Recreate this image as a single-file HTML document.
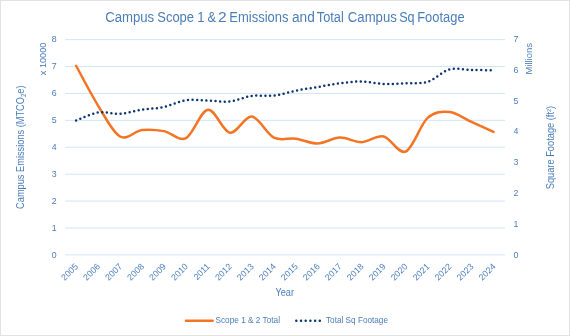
<!DOCTYPE html>
<html><head><meta charset="utf-8"><style>
html,body{margin:0;padding:0;background:#fff;}
body{width:570px;height:336px;overflow:hidden;position:relative;}
svg{position:absolute;left:0;top:0;will-change:transform;}
text{font-family:"Liberation Sans",sans-serif;fill:#4a7dba;}
</style></head><body>
<svg width="570" height="336" viewBox="0 0 570 336">
<rect x="0" y="0" width="570" height="336" fill="#fff"/>
<rect x="0.5" y="0.5" width="569" height="335" fill="#fff" stroke="#e2e2e2" stroke-width="1"/>
<g font-size="13.8"><text x="105.13" y="21.9" textLength="49.04" lengthAdjust="spacingAndGlyphs">Campus</text><text x="157.21" y="21.9" textLength="36.87" lengthAdjust="spacingAndGlyphs">Scope</text><text x="197.29" y="21.9" textLength="7.35" lengthAdjust="spacingAndGlyphs">1</text><text x="207.55" y="21.9" textLength="8.55" lengthAdjust="spacingAndGlyphs">&amp;</text><text x="218.12" y="21.9" textLength="8.67" lengthAdjust="spacingAndGlyphs">2</text><text x="229.34" y="21.9" textLength="59.13" lengthAdjust="spacingAndGlyphs">Emissions</text><text x="292.02" y="21.9" textLength="22.76" lengthAdjust="spacingAndGlyphs">and</text><text x="316.73" y="21.9" textLength="27.09" lengthAdjust="spacingAndGlyphs">Total</text><text x="347.83" y="21.9" textLength="48.94" lengthAdjust="spacingAndGlyphs">Campus</text><text x="399.13" y="21.9" textLength="15.48" lengthAdjust="spacingAndGlyphs">Sq</text><text x="417.24" y="21.9" textLength="47.33" lengthAdjust="spacingAndGlyphs">Footage</text></g>
<g stroke="#d0e4fa" stroke-width="1"><line x1="65.1" x2="504.9" y1="254.85" y2="254.85"/><line x1="65.1" x2="504.9" y1="227.95" y2="227.95"/><line x1="65.1" x2="504.9" y1="201.05" y2="201.05"/><line x1="65.1" x2="504.9" y1="174.15" y2="174.15"/><line x1="65.1" x2="504.9" y1="147.25" y2="147.25"/><line x1="65.1" x2="504.9" y1="120.35" y2="120.35"/><line x1="65.1" x2="504.9" y1="93.45" y2="93.45"/><line x1="65.1" x2="504.9" y1="66.55" y2="66.55"/><line x1="65.1" x2="504.9" y1="39.65" y2="39.65"/></g>
<g font-size="9.4"><text x="51.7" y="257.90" textLength="4.9" lengthAdjust="spacingAndGlyphs">0</text><text x="51.7" y="230.94" textLength="4.9" lengthAdjust="spacingAndGlyphs">1</text><text x="51.7" y="203.98" textLength="4.9" lengthAdjust="spacingAndGlyphs">2</text><text x="51.7" y="177.02" textLength="4.9" lengthAdjust="spacingAndGlyphs">3</text><text x="51.7" y="150.06" textLength="4.9" lengthAdjust="spacingAndGlyphs">4</text><text x="51.7" y="123.10" textLength="4.9" lengthAdjust="spacingAndGlyphs">5</text><text x="51.7" y="96.14" textLength="4.9" lengthAdjust="spacingAndGlyphs">6</text><text x="51.7" y="69.18" textLength="4.9" lengthAdjust="spacingAndGlyphs">7</text><text x="51.7" y="42.22" textLength="4.9" lengthAdjust="spacingAndGlyphs">8</text><text x="513.5" y="257.80" textLength="4.9" lengthAdjust="spacingAndGlyphs">0</text><text x="513.5" y="226.97" textLength="4.9" lengthAdjust="spacingAndGlyphs">1</text><text x="513.5" y="196.14" textLength="4.9" lengthAdjust="spacingAndGlyphs">2</text><text x="513.5" y="165.31" textLength="4.9" lengthAdjust="spacingAndGlyphs">3</text><text x="513.5" y="134.48" textLength="4.9" lengthAdjust="spacingAndGlyphs">4</text><text x="513.5" y="103.65" textLength="4.9" lengthAdjust="spacingAndGlyphs">5</text><text x="513.5" y="72.82" textLength="4.9" lengthAdjust="spacingAndGlyphs">6</text><text x="513.5" y="41.99" textLength="4.9" lengthAdjust="spacingAndGlyphs">7</text></g>
<g font-size="8.8"><text transform="translate(78.70,267.1) rotate(-45)" text-anchor="end">2005</text><text transform="translate(100.67,267.1) rotate(-45)" text-anchor="end">2006</text><text transform="translate(122.64,267.1) rotate(-45)" text-anchor="end">2007</text><text transform="translate(144.61,267.1) rotate(-45)" text-anchor="end">2008</text><text transform="translate(166.58,267.1) rotate(-45)" text-anchor="end">2009</text><text transform="translate(188.55,267.1) rotate(-45)" text-anchor="end">2010</text><text transform="translate(210.52,267.1) rotate(-45)" text-anchor="end">2011</text><text transform="translate(232.49,267.1) rotate(-45)" text-anchor="end">2012</text><text transform="translate(254.46,267.1) rotate(-45)" text-anchor="end">2013</text><text transform="translate(276.43,267.1) rotate(-45)" text-anchor="end">2014</text><text transform="translate(298.40,267.1) rotate(-45)" text-anchor="end">2015</text><text transform="translate(320.37,267.1) rotate(-45)" text-anchor="end">2016</text><text transform="translate(342.34,267.1) rotate(-45)" text-anchor="end">2017</text><text transform="translate(364.31,267.1) rotate(-45)" text-anchor="end">2018</text><text transform="translate(386.28,267.1) rotate(-45)" text-anchor="end">2019</text><text transform="translate(408.25,267.1) rotate(-45)" text-anchor="end">2020</text><text transform="translate(430.22,267.1) rotate(-45)" text-anchor="end">2021</text><text transform="translate(452.19,267.1) rotate(-45)" text-anchor="end">2022</text><text transform="translate(474.16,267.1) rotate(-45)" text-anchor="end">2023</text><text transform="translate(496.13,267.1) rotate(-45)" text-anchor="end">2024</text></g>
<path d="M76.10,65.74 C79.76,72.38 90.75,93.76 98.07,105.56 C105.39,117.35 112.72,132.41 120.04,136.49 C127.36,140.57 134.69,130.93 142.01,130.03 C149.33,129.14 156.66,129.77 163.98,131.11 C171.30,132.46 178.63,141.65 185.95,138.10 C193.27,134.56 200.60,110.76 207.92,109.86 C215.24,108.96 222.57,131.60 229.89,132.72 C237.21,133.84 244.54,115.78 251.86,116.58 C259.18,117.39 266.51,133.89 273.83,137.57 C281.15,141.24 288.48,137.66 295.80,138.64 C303.12,139.63 310.45,143.66 317.77,143.48 C325.09,143.30 332.42,137.79 339.74,137.57 C347.06,137.34 354.39,142.32 361.71,142.14 C369.03,141.96 376.36,134.92 383.68,136.49 C391.00,138.06 398.33,154.65 405.65,151.55 C412.97,148.46 420.30,124.52 427.62,117.93 C434.94,111.34 442.27,111.34 449.59,112.01 C456.91,112.68 464.24,118.65 471.56,121.96 C478.88,125.28 489.87,130.26 493.53,131.92" fill="none" stroke="#f37524" stroke-width="2.5" stroke-linecap="round" stroke-linejoin="round"/>
<path d="M76.10,120.50 C79.76,119.17 90.75,113.64 98.07,112.51 C105.39,111.38 112.72,114.20 120.04,113.74 C127.36,113.28 134.69,110.87 142.01,109.74 C149.33,108.62 156.66,108.57 163.98,106.98 C171.30,105.39 178.63,101.29 185.95,100.21 C193.27,99.14 200.60,100.32 207.92,100.52 C215.24,100.73 222.57,102.21 229.89,101.44 C237.21,100.67 244.54,96.88 251.86,95.91 C259.18,94.94 266.51,96.47 273.83,95.60 C281.15,94.73 288.48,92.12 295.80,90.68 C303.12,89.25 310.45,88.22 317.77,86.99 C325.09,85.76 332.42,84.23 339.74,83.30 C347.06,82.38 354.39,81.36 361.71,81.46 C369.03,81.56 376.36,83.61 383.68,83.92 C391.00,84.23 398.33,83.66 405.65,83.30 C412.97,82.95 420.30,84.07 427.62,81.77 C434.94,79.46 442.27,71.44 449.59,69.47 C456.91,67.50 464.24,69.80 471.56,69.93 C478.88,70.06 489.87,70.19 493.53,70.24" fill="none" stroke="#0c3470" stroke-width="2.5" stroke-dasharray="0 4.6" stroke-linecap="round"/>
<text transform="translate(46,58.9) rotate(-90)" text-anchor="middle" font-size="9.2">x 10000</text>
<text transform="translate(532.2,74.6) rotate(-90)" font-size="9.4" textLength="31.6" lengthAdjust="spacingAndGlyphs">Millions</text>
<text transform="translate(23.5,208.9) rotate(-90)" font-size="10" textLength="123.5" lengthAdjust="spacingAndGlyphs">Campus Emissions (MTCO<tspan font-size="6.6" dy="2.6">2</tspan><tspan dy="-2.6">e)</tspan></text>
<text transform="translate(554.3,189.3) rotate(-90)" font-size="10.4" textLength="83.5" lengthAdjust="spacingAndGlyphs">Square Footage (ft<tspan font-size="6.2" dy="-3.5">2</tspan><tspan dy="3.5">)</tspan></text>
<text x="275.5" y="295.9" font-size="10" textLength="18.5" lengthAdjust="spacingAndGlyphs">Year</text>
<line x1="186" x2="212.6" y1="320.65" y2="320.65" stroke="#f37524" stroke-width="2.5" stroke-linecap="round"/>
<text x="215.5" y="323.3" font-size="8.4" textLength="64.5" lengthAdjust="spacingAndGlyphs">Scope 1 &amp; 2 Total</text>
<line x1="296.3" x2="322" y1="320.7" y2="320.7" stroke="#0c3470" stroke-width="2.5" stroke-dasharray="0 4.7" stroke-linecap="round"/>
<text x="326" y="323.3" font-size="8.4" textLength="62" lengthAdjust="spacingAndGlyphs">Total Sq Footage</text>
</svg>
</body></html>
